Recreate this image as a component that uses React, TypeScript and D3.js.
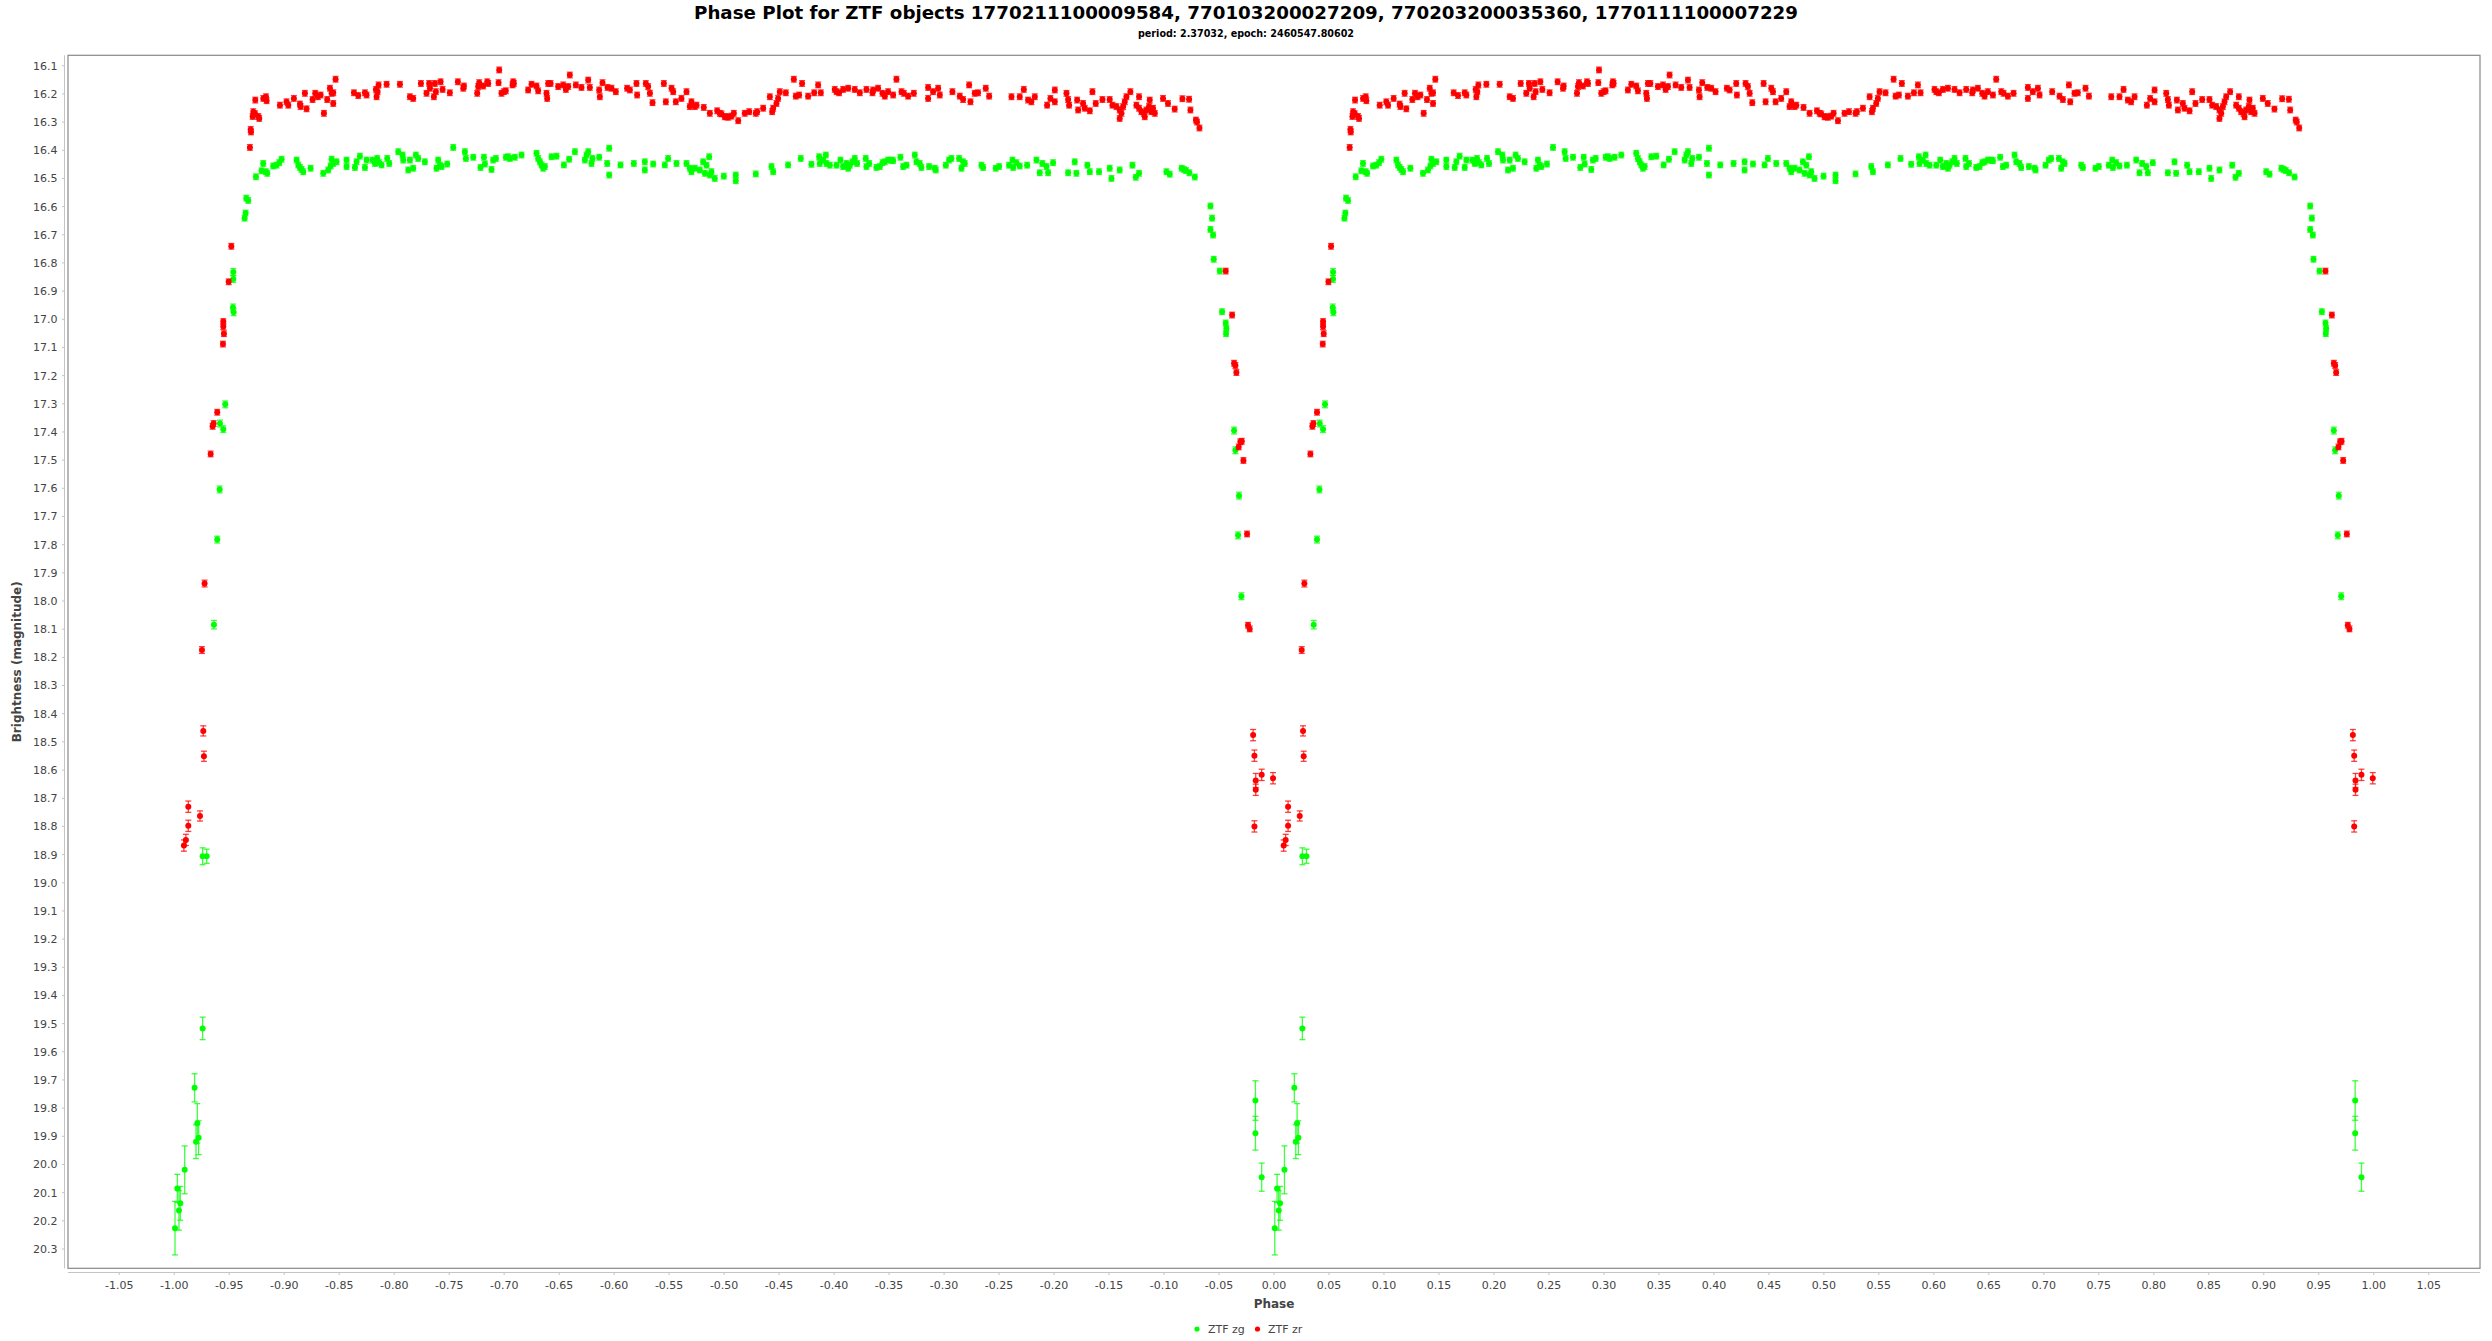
import React from "react";
import * as d3 from "d3";

// ---- Data: one folded cycle, [phase, magnitude, error?] (error defaults to 0.01) ----
const zgPoints: number[][] = [
  [0.0007, 20.226, 0.095], [0.0028, 20.085, 0.05], [0.0043, 20.163, 0.07], [0.0055, 20.138, 0.06],
  [0.0095, 20.019, 0.085], [0.0185, 19.728, 0.05], [0.0198, 19.919, 0.06], [0.0210, 19.854, 0.07],
  [0.0222, 19.905, 0.06], [0.0258, 18.906, 0.03], [0.0295, 18.906, 0.025], [0.0258, 19.517, 0.04],
  [0.0361, 18.084, 0.015], [0.0391, 17.782, 0.012], [0.0413, 17.604, 0.012], [0.0416, 17.370, 0.012],
  [0.0446, 17.390, 0.012], [0.0464, 17.302, 0.012], [0.0537, 16.832, 0.012], [0.0537, 16.857, 0.012],
  [0.0534, 16.958, 0.012], [0.0540, 16.975, 0.012], [0.0640, 16.641], [0.0649, 16.623],
  [0.0655, 16.570], [0.0673, 16.578], [0.0743, 16.494], [0.0794, 16.473], [0.0809, 16.447],
  [0.0834, 16.476], [0.0846, 16.482], [0.0900, 16.456], [0.0930, 16.453], [0.0955, 16.444],
  [0.0976, 16.432], [0.1113, 16.435], [0.1128, 16.452], [0.1143, 16.461], [0.1158, 16.468],
  [0.1173, 16.476], [0.1240, 16.464], [0.1355, 16.482], [0.1400, 16.470], [0.1422, 16.456],
  [0.1431, 16.432], [0.1446, 16.447], [0.1476, 16.441], [0.1567, 16.435], [0.1567, 16.458],
  [0.1643, 16.461], [0.1658, 16.441], [0.1688, 16.421], [0.1734, 16.461], [0.1749, 16.435],
  [0.1803, 16.435], [0.1825, 16.447], [0.1846, 16.429], [0.1864, 16.444], [0.1885, 16.452],
  [0.1937, 16.429], [0.1955, 16.447], [0.2037, 16.405], [0.2076, 16.417], [0.2082, 16.435],
  [0.2128, 16.470], [0.2143, 16.435], [0.2173, 16.464], [0.2197, 16.417], [0.2218, 16.429],
  [0.2279, 16.441], [0.2385, 16.464], [0.2400, 16.435], [0.2416, 16.453], [0.2431, 16.458],
  [0.2482, 16.449], [0.2537, 16.390], [0.2643, 16.405], [0.2652, 16.429], [0.2719, 16.425],
  [0.2785, 16.461], [0.2816, 16.425], [0.2825, 16.449], [0.2885, 16.468], [0.2900, 16.435],
  [0.2925, 16.429], [0.3016, 16.425], [0.3037, 16.423], [0.3052, 16.429], [0.3097, 16.425],
  [0.3158, 16.417], [0.3294, 16.411], [0.3309, 16.429], [0.3325, 16.441], [0.3340, 16.452],
  [0.3355, 16.464], [0.3370, 16.458], [0.3431, 16.423], [0.3476, 16.421], [0.3543, 16.452],
  [0.3591, 16.432], [0.3643, 16.405], [0.3734, 16.435], [0.3749, 16.417], [0.3764, 16.405],
  [0.3794, 16.447], [0.3803, 16.429], [0.3864, 16.425], [0.3937, 16.447], [0.3955, 16.488],
  [0.3955, 16.393], [0.4058, 16.452], [0.4179, 16.447], [0.4279, 16.441], [0.4279, 16.470],
  [0.4355, 16.449], [0.4461, 16.452], [0.4491, 16.429], [0.4567, 16.447], [0.4658, 16.447],
  [0.4688, 16.464], [0.4703, 16.476], [0.4734, 16.464], [0.4779, 16.470], [0.4809, 16.441],
  [0.4825, 16.482], [0.4840, 16.453], [0.4864, 16.423], [0.4870, 16.488], [0.4885, 16.476],
  [0.4915, 16.500], [0.4997, 16.492], [0.5106, 16.488], [0.5106, 16.508], [0.5288, 16.484],
  [0.5431, 16.458], [0.5446, 16.476], [0.5582, 16.452], [0.5697, 16.429], [0.5794, 16.450],
  [0.5864, 16.423], [0.5870, 16.447], [0.5900, 16.435], [0.5925, 16.417], [0.5931, 16.447],
  [0.5961, 16.453], [0.6022, 16.453], [0.6058, 16.435], [0.6082, 16.458], [0.6113, 16.447],
  [0.6128, 16.464], [0.6143, 16.453], [0.6167, 16.441], [0.6188, 16.429], [0.6209, 16.447],
  [0.6288, 16.429], [0.6294, 16.458], [0.6319, 16.447], [0.6385, 16.461], [0.6416, 16.458],
  [0.6440, 16.444], [0.6461, 16.441], [0.6491, 16.435], [0.6522, 16.435], [0.6537, 16.437],
  [0.6603, 16.425], [0.6628, 16.458], [0.6658, 16.453], [0.6734, 16.417], [0.6749, 16.441],
  [0.6779, 16.447], [0.6794, 16.461], [0.6864, 16.458], [0.6916, 16.464], [0.6925, 16.470],
  [0.7016, 16.453], [0.7046, 16.435], [0.7067, 16.429], [0.7137, 16.429], [0.7158, 16.464],
  [0.7173, 16.441], [0.7188, 16.447], [0.7340, 16.453], [0.7355, 16.461], [0.7470, 16.464],
  [0.7500, 16.458], [0.7591, 16.453], [0.7622, 16.435], [0.7628, 16.461], [0.7658, 16.444],
  [0.7688, 16.456], [0.7755, 16.453], [0.7840, 16.435], [0.7870, 16.480], [0.7894, 16.447],
  [0.7931, 16.458], [0.7946, 16.480], [0.7991, 16.444], [0.8128, 16.480], [0.8188, 16.441],
  [0.8203, 16.482], [0.8303, 16.453], [0.8325, 16.476], [0.8409, 16.476], [0.8506, 16.464],
  [0.8522, 16.500], [0.8597, 16.470], [0.8713, 16.453], [0.8743, 16.496], [0.8773, 16.482],
  [0.9022, 16.476], [0.9052, 16.485], [0.9160, 16.464], [0.9180, 16.468], [0.9200, 16.472],
  [0.9230, 16.480], [0.9280, 16.495], [0.9422, 16.598], [0.9437, 16.641], [0.9422, 16.681],
  [0.9446, 16.701], [0.9452, 16.787], [0.9507, 16.829], [0.9528, 16.973], [0.9561, 17.013],
  [0.9567, 17.033], [0.9564, 17.051], [0.9637, 17.395, 0.012], [0.9649, 17.465, 0.012],
  [0.9682, 17.626, 0.012], [0.9673, 17.767, 0.012], [0.9704, 17.983, 0.012],
  [0.9831, 19.773, 0.07], [0.9831, 19.889, 0.06], [0.9888, 20.045, 0.05],
];

const zrPoints: number[][] = [
  [0.0088, 18.868, 0.02], [0.0106, 18.848, 0.02], [0.0128, 18.798, 0.02], [0.0128, 18.730, 0.02],
  [0.0234, 18.763, 0.018], [0.0264, 18.461, 0.018], [0.0270, 18.551, 0.018], [0.0252, 18.174, 0.012],
  [0.0276, 17.938, 0.012], [0.0331, 17.478], [0.0349, 17.380], [0.0358, 17.370], [0.0391, 17.330],
  [0.0443, 17.088], [0.0452, 17.051], [0.0446, 17.026], [0.0446, 17.008], [0.0495, 16.867],
  [0.0519, 16.741], [0.0688, 16.390], [0.0695, 16.326], [0.0698, 16.335], [0.0713, 16.280],
  [0.0719, 16.263], [0.0737, 16.222], [0.0734, 16.270], [0.0764, 16.280], [0.0773, 16.287],
  [0.0810, 16.216], [0.0834, 16.210], [0.0840, 16.224], [0.0961, 16.240], [0.1021, 16.228],
  [0.1037, 16.240], [0.1088, 16.216], [0.1143, 16.236], [0.1149, 16.245], [0.1188, 16.198],
  [0.1203, 16.253], [0.1258, 16.220], [0.1282, 16.198], [0.1306, 16.210], [0.1331, 16.204],
  [0.1361, 16.269], [0.1391, 16.220], [0.1416, 16.180], [0.1431, 16.198], [0.1446, 16.196],
  [0.1446, 16.234], [0.1467, 16.148], [0.1634, 16.196], [0.1673, 16.206], [0.1734, 16.196],
  [0.1749, 16.204], [0.1834, 16.184], [0.1840, 16.210], [0.1849, 16.192], [0.1858, 16.168],
  [0.1931, 16.166], [0.2052, 16.166], [0.2143, 16.210], [0.2173, 16.216], [0.2243, 16.163],
  [0.2294, 16.198], [0.2318, 16.163], [0.2325, 16.180], [0.2361, 16.210], [0.2370, 16.163],
  [0.2379, 16.192], [0.2422, 16.157], [0.2440, 16.184], [0.2506, 16.196], [0.2579, 16.157],
  [0.2628, 16.180], [0.2634, 16.172], [0.2755, 16.198], [0.2764, 16.174], [0.2773, 16.160],
  [0.2809, 16.172], [0.2846, 16.157], [0.2855, 16.163], [0.2955, 16.115], [0.2949, 16.160],
  [0.2976, 16.198], [0.2997, 16.192], [0.3015, 16.189], [0.3076, 16.168], [0.3082, 16.157],
  [0.3088, 16.163], [0.3218, 16.186], [0.3249, 16.166], [0.3294, 16.172], [0.3309, 16.189],
  [0.3385, 16.198], [0.3391, 16.216], [0.3400, 16.163], [0.3422, 16.163], [0.3491, 16.174],
  [0.3537, 16.168], [0.3561, 16.184], [0.3582, 16.174], [0.3597, 16.133], [0.3652, 16.168],
  [0.3703, 16.177], [0.3764, 16.151], [0.3779, 16.177], [0.3864, 16.186], [0.3870, 16.210],
  [0.3894, 16.160], [0.3940, 16.177], [0.3976, 16.180], [0.4015, 16.192], [0.4118, 16.180],
  [0.4143, 16.186], [0.4203, 16.163], [0.4209, 16.204], [0.4288, 16.163], [0.4309, 16.174],
  [0.4325, 16.198], [0.4349, 16.231], [0.4452, 16.163], [0.4470, 16.228], [0.4522, 16.180],
  [0.4537, 16.192], [0.4561, 16.228], [0.4612, 16.216], [0.4658, 16.192], [0.4688, 16.245],
  [0.4703, 16.228], [0.4734, 16.245], [0.4749, 16.240], [0.4815, 16.248], [0.4870, 16.269],
  [0.4937, 16.260], [0.4961, 16.269], [0.4976, 16.271], [0.5006, 16.281], [0.5022, 16.281],
  [0.5037, 16.283], [0.5067, 16.279], [0.5088, 16.269], [0.5128, 16.295], [0.5188, 16.269],
  [0.5228, 16.263], [0.5288, 16.269], [0.5300, 16.263], [0.5355, 16.251], [0.5416, 16.210],
  [0.5437, 16.263], [0.5446, 16.251], [0.5476, 16.234], [0.5491, 16.216], [0.5506, 16.192],
  [0.5561, 16.196], [0.5634, 16.148], [0.5652, 16.208], [0.5682, 16.204], [0.5709, 16.163],
  [0.5764, 16.208], [0.5819, 16.196], [0.5855, 16.168], [0.5879, 16.196], [0.6006, 16.184],
  [0.6022, 16.192], [0.6046, 16.196], [0.6082, 16.184], [0.6128, 16.180], [0.6188, 16.184],
  [0.6234, 16.196], [0.6294, 16.184], [0.6349, 16.196], [0.6355, 16.186], [0.6400, 16.180],
  [0.6440, 16.198], [0.6461, 16.208], [0.6491, 16.192], [0.6537, 16.204], [0.6567, 16.148],
  [0.6613, 16.192], [0.6634, 16.198], [0.6673, 16.208], [0.6725, 16.198], [0.6855, 16.177],
  [0.6855, 16.216], [0.6900, 16.192], [0.6946, 16.180], [0.6961, 16.204], [0.7076, 16.192],
  [0.7143, 16.208], [0.7173, 16.220], [0.7228, 16.168], [0.7240, 16.228], [0.7279, 16.198],
  [0.7309, 16.196], [0.7379, 16.180], [0.7410, 16.208], [0.7613, 16.210], [0.7688, 16.210],
  [0.7725, 16.184], [0.7764, 16.222], [0.7794, 16.228], [0.7825, 16.210], [0.7937, 16.240],
  [0.7967, 16.216], [0.8007, 16.186], [0.8007, 16.228], [0.8113, 16.198], [0.8128, 16.220],
  [0.8137, 16.240], [0.8210, 16.222], [0.8219, 16.257], [0.8264, 16.234], [0.8279, 16.251],
  [0.8325, 16.260], [0.8349, 16.192], [0.8379, 16.234], [0.8440, 16.220], [0.8506, 16.220],
  [0.8531, 16.240], [0.8567, 16.245], [0.8597, 16.257], [0.8597, 16.287], [0.8613, 16.269],
  [0.8628, 16.245], [0.8643, 16.228], [0.8658, 16.210], [0.8694, 16.192], [0.8749, 16.240],
  [0.8773, 16.251], [0.8794, 16.263], [0.8816, 16.269], [0.8840, 16.257], [0.8864, 16.245],
  [0.8885, 16.263], [0.8900, 16.251], [0.8916, 16.269], [0.8773, 16.210], [0.8870, 16.222],
  [0.8825, 16.281], [0.8991, 16.216], [0.9036, 16.234], [0.9097, 16.254], [0.9167, 16.217],
  [0.9228, 16.219], [0.9240, 16.257], [0.9290, 16.293], [0.9300, 16.300], [0.9322, 16.321],
  [0.9561, 16.829], [0.9619, 16.985], [0.9637, 17.156], [0.9649, 17.164], [0.9658, 17.189],
  [0.9679, 17.453], [0.9694, 17.435], [0.9707, 17.433], [0.9722, 17.501], [0.9755, 17.762],
  [0.9764, 18.086], [0.9779, 18.099], [0.9810, 18.476, 0.02], [0.9822, 18.549, 0.02],
  [0.9834, 18.637, 0.025], [0.9834, 18.670, 0.02], [0.9888, 18.617, 0.02], [0.9991, 18.629, 0.02],
  [0.9822, 18.800, 0.02],
];

const xTicks: number[] = [
  -1.05, -1.0, -0.95, -0.9, -0.85, -0.8, -0.75, -0.7, -0.65, -0.6, -0.55, -0.5, -0.45, -0.4, -0.35,
  -0.3, -0.25, -0.2, -0.15, -0.1, -0.05, 0, 0.05, 0.1, 0.15, 0.2, 0.25, 0.3, 0.35, 0.4, 0.45, 0.5,
  0.55, 0.6, 0.65, 0.7, 0.75, 0.8, 0.85, 0.9, 0.95, 1.0, 1.05,
];
const yTicks: number[] = [
  16.1, 16.2, 16.3, 16.4, 16.5, 16.6, 16.7, 16.8, 16.9, 17.0, 17.1, 17.2, 17.3, 17.4, 17.5, 17.6,
  17.7, 17.8, 17.9, 18.0, 18.1, 18.2, 18.3, 18.4, 18.5, 18.6, 18.7, 18.8, 18.9, 19.0, 19.1, 19.2,
  19.3, 19.4, 19.5, 19.6, 19.7, 19.8, 19.9, 20.0, 20.1, 20.2, 20.3,
];
const cycleOffsets: number[] = [-1, 0];

const TITLE = "Phase Plot for ZTF objects 1770211100009584, 770103200027209, 770203200035360, 1770111100007229";
const SUBTITLE = "period: 2.37032, epoch: 2460547.80602";
const X_LABEL = "Phase";
const Y_LABEL = "Brightness (magnitude)";
const seriesNames: string[] = ["ZTF zg", "ZTF zr"];
const seriesColors: string[] = ["#00ff00", "#ff0000"];

const W = 2492;
const H = 1341;
const PL = 68, PR = 2480, PT = 55.3, PB = 1268.3;

export default function App() {
  const x = d3.scaleLinear().domain([-1.0966, 1.0966]).range([PL, PR]);
  const y = d3.scaleLinear().domain([16.063, 20.3685]).range([PT, PB]);
  const font = "'DejaVu Sans', Verdana, sans-serif";
  const series = [zgPoints, zrPoints];

  return (
    <svg
      width={W}
      height={H}
      style={{ position: "absolute", left: 0, top: 0, background: "#fff" }}
      fontFamily={font}
    >
      <rect x={0} y={0} width={W} height={H} fill="#fff" />
      <text x={1246} y={19} textAnchor="middle" fontSize={17} fontWeight="bold" fill="#000"
        textLength={1104} lengthAdjust="spacingAndGlyphs">{TITLE}</text>
      <text x={1246} y={37} textAnchor="middle" fontSize={10} fontWeight="bold" fill="#000"
        textLength={216} lengthAdjust="spacingAndGlyphs">{SUBTITLE}</text>

      {/* plot border */}
      <rect x={PL} y={PT} width={PR - PL} height={PB - PT} fill="#fff" stroke="#888" strokeWidth={1.2} />

      {/* y axis */}
      <line x1={64.5} x2={64.5} y1={PT} y2={PB} stroke="#c4c4c4" strokeWidth={1} />
      {yTicks.map((t) => (
        <g key={"y" + t}>
          <line x1={62} x2={64.5} y1={y(t)} y2={y(t)} stroke="#c4c4c4" />
          <text x={57.5} y={y(t)} dy="0.36em" textAnchor="end" fontSize={11} fill="#444">
            {t.toFixed(1)}
          </text>
        </g>
      ))}
      <text transform={`translate(21,${(PT + PB) / 2}) rotate(-90)`} textAnchor="middle"
        fontSize={12} fontWeight="bold" fill="#444">{Y_LABEL}</text>

      {/* x axis */}
      <line x1={PL} x2={PR} y1={1272.5} y2={1272.5} stroke="#c4c4c4" strokeWidth={1} />
      {xTicks.map((t) => (
        <g key={"x" + t}>
          <line x1={x(t)} x2={x(t)} y1={1272.5} y2={1275} stroke="#c4c4c4" />
          <text x={x(t)} y={1289} textAnchor="middle" fontSize={11} fill="#444">
            {t.toFixed(2)}
          </text>
        </g>
      ))}
      <text x={(PL + PR) / 2} y={1307.5} textAnchor="middle" fontSize={12} fontWeight="bold" fill="#444">
        {X_LABEL}
      </text>

      {/* data */}
      {series.map((pts, si) => (
        <g key={"s" + si} fill={seriesColors[si]} stroke={seriesColors[si]}>
          {cycleOffsets.map((off) =>
            pts.map((p, i) => {
              const cx = x(p[0] + off);
              const e = p.length > 2 ? p[2] : 0.01;
              const y0 = y(p[1] - e);
              const y1 = y(p[1] + e);
              return (
                <g key={off + "_" + i}>
                  <g strokeOpacity={0.75} strokeWidth={1.3}>
                    <line x1={cx} x2={cx} y1={y0} y2={y1} />
                    <line x1={cx - 3} x2={cx + 3} y1={y0} y2={y0} />
                    <line x1={cx - 3} x2={cx + 3} y1={y1} y2={y1} />
                  </g>
                  <circle cx={cx} cy={y(p[1])} r={3} stroke="none" />
                </g>
              );
            })
          )}
        </g>
      ))}

      {/* legend */}
      <circle cx={1197} cy={1329} r={2.6} fill={seriesColors[0]} />
      <text x={1208} y={1333} fontSize={11} fill="#444">{seriesNames[0]}</text>
      <circle cx={1257.5} cy={1329} r={2.6} fill={seriesColors[1]} />
      <text x={1268} y={1333} fontSize={11} fill="#444">{seriesNames[1]}</text>
    </svg>
  );
}
